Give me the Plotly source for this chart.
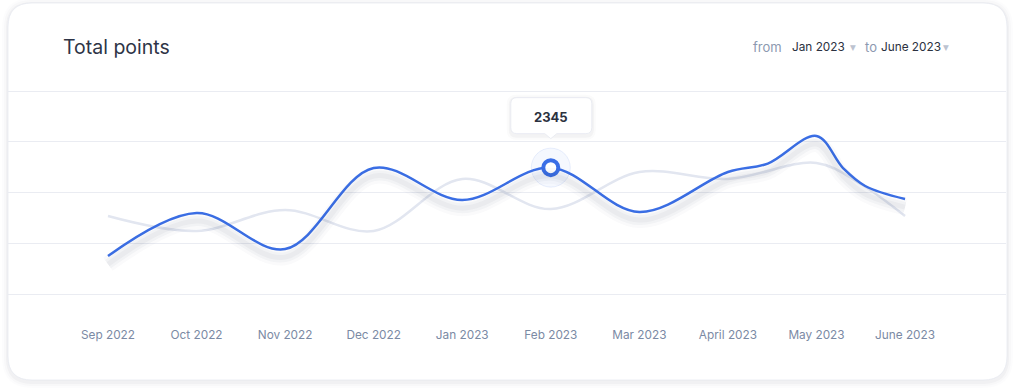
import plotly.graph_objects as go

# ---- data ----
months = ["Sep 2022", "Oct 2022", "Nov 2022", "Dec 2022", "Jan 2023",
          "Feb 2023", "Mar 2023", "April 2023", "May 2023", "June 2023"]
month_pos = list(range(len(months)))

# current period (blue) — extra in-between readings where the curve bends sharply
cur_x = [0, 1, 2, 3, 4, 5, 6, 7, 7.45, 8, 8.3, 8.55, 9]
cur_y = [1474, 1898, 1543, 2341, 2026, 2345, 1908, 2302, 2385, 2657, 2341, 2164, 2036]

# previous period (grey)
prev_x = [0, 1, 2, 3, 4, 5, 6, 7, 8, 8.5, 9]
prev_y = [1868, 1721, 1928, 1721, 2233, 1937, 2302, 2233, 2391, 2184, 1868]

highlight_idx = 5  # Feb 2023
highlight_val = cur_y[cur_x.index(highlight_idx)]

grid_vals = [1100, 1600, 2100, 2600, 3100]
y_range = [1001.5, 3198.5]
x_range = [-1.129, 10.14]

BLUE = "#3b6fe6"
GREY_LINE = "#e2e6f0"
FONT = "Inter"


def rrect(x0, y0, x1, y1, r):
    """rounded rectangle path in pixel offsets (y positive = up); y0 bottom, y1 top"""
    return (f"M {x0+r},{y1} L {x1-r},{y1} Q {x1},{y1} {x1},{y1-r} "
            f"L {x1},{y0+r} Q {x1},{y0} {x1-r},{y0} L {x0+r},{y0} "
            f"Q {x0},{y0} {x0},{y0+r} L {x0},{y1-r} Q {x0},{y1} {x0+r},{y1} Z")


def tooltip_path(x0, y0, x1, y1, r, tip_h, tip_w):
    return (f"M {x0+r},{y1} L {x1-r},{y1} Q {x1},{y1} {x1},{y1-r} "
            f"L {x1},{y0+r} Q {x1},{y0} {x1-r},{y0} "
            f"L {tip_w},{y0} L 0,{y0-tip_h} L {-tip_w},{y0} "
            f"L {x0+r},{y0} "
            f"Q {x0},{y0} {x0},{y0+r} L {x0},{y1-r} Q {x0},{y1} {x0+r},{y1} Z")


fig = go.Figure()

# soft shadow under the blue line (drawn on a shifted overlay axis)
shift = 80
for w, a in [(16, 0.025), (10, 0.035), (5, 0.04)]:
    fig.add_trace(go.Scatter(x=cur_x, y=cur_y, mode="lines", yaxis="y2",
                             line=dict(color=f"rgba(40,50,80,{a})", width=w,
                                       shape="spline", smoothing=1),
                             hoverinfo="skip", showlegend=False))

fig.add_trace(go.Scatter(x=prev_x, y=prev_y, mode="lines",
                         line=dict(color=GREY_LINE, width=2.5, shape="spline", smoothing=1),
                         hoverinfo="skip", showlegend=False))
fig.add_trace(go.Scatter(x=cur_x, y=cur_y, mode="lines",
                         line=dict(color=BLUE, width=2.5, shape="spline", smoothing=1),
                         hoverinfo="skip", showlegend=False))

# highlighted point: halo + ring
fig.add_trace(go.Scatter(x=[highlight_idx], y=[highlight_val], mode="markers",
                         marker=dict(size=39, color="rgba(59,111,230,0.05)",
                                     line=dict(color="rgba(59,111,230,0.10)", width=1)),
                         hoverinfo="skip", showlegend=False))
fig.add_trace(go.Scatter(x=[highlight_idx], y=[highlight_val], mode="markers",
                         marker=dict(size=15, color="white",
                                     line=dict(color=BLUE, width=4)),
                         hoverinfo="skip", showlegend=False))

shapes = []
# card shadow + card
for d, a in [(6, 0.012), (4, 0.02), (2, 0.03)]:
    shapes.append(dict(type="path", xref="paper", yref="paper", xsizemode="pixel",
                       ysizemode="pixel", xanchor=0, yanchor=1, layer="below",
                       path=rrect(-d, -299 - d - 2, 999 + d, 78 + d - 1, 24 + d),
                       fillcolor=f"rgba(30,40,70,{a})", line=dict(width=0)))
shapes.append(dict(type="path", xref="paper", yref="paper", xsizemode="pixel",
                   ysizemode="pixel", xanchor=0, yanchor=1, layer="below",
                   path=rrect(0, -299, 999, 78, 24),
                   fillcolor="white", line=dict(color="rgba(225,228,236,0.6)", width=1)))

# tooltip shadow + tooltip
for d, a in [(4, 0.02), (2, 0.035)]:
    shapes.append(dict(type="path", xref="x", yref="y", xsizemode="pixel",
                       ysizemode="pixel", xanchor=highlight_idx, yanchor=highlight_val,
                       path=rrect(-40 - d, 34 - d - 2, 41 + d, 70 + d - 1, 6 + d),
                       fillcolor=f"rgba(30,40,70,{a})", line=dict(width=0)))
shapes.append(dict(type="path", xref="x", yref="y", xsizemode="pixel",
                   ysizemode="pixel", xanchor=highlight_idx, yanchor=highlight_val,
                   path=tooltip_path(-40, 34, 41, 70, 6, 5, 6),
                   fillcolor="white", line=dict(color="rgba(230,233,240,0.8)", width=1)))

annotations = [
    dict(x=highlight_idx, y=highlight_val, xref="x", yref="y", yshift=51,
         text=f"<b>{highlight_val}</b>", showarrow=False,
         font=dict(family=FONT, size=13, color="#2b3140")),
]

hdr_y = (304 - 47) / 223
def px(xp):
    return (xp - 8) / 998

annotations += [
    dict(x=px(751), y=hdr_y, xref="paper", yref="paper", xanchor="left", yanchor="middle",
         text="from", showarrow=False, font=dict(family=FONT, size=13, color="#8c99b0")),
    dict(x=px(790), y=hdr_y, xref="paper", yref="paper", xanchor="left", yanchor="middle",
         text="Jan 2023", showarrow=False, font=dict(family=FONT, size=11.8, color="#2b3140")),
    dict(x=px(853), y=hdr_y, xref="paper", yref="paper", xanchor="center", yanchor="middle",
         text="▼", showarrow=False, font=dict(family="DejaVu Sans", size=7.5, color="#bcc3d0")),
    dict(x=px(863), y=hdr_y, xref="paper", yref="paper", xanchor="left", yanchor="middle",
         text="to", showarrow=False, font=dict(family=FONT, size=13, color="#8c99b0")),
    dict(x=px(879), y=hdr_y, xref="paper", yref="paper", xanchor="left", yanchor="middle",
         text="June 2023", showarrow=False, font=dict(family=FONT, size=11.8, color="#2b3140")),
    dict(x=px(946), y=hdr_y, xref="paper", yref="paper", xanchor="center", yanchor="middle",
         text="▼", showarrow=False, font=dict(family="DejaVu Sans", size=7.5, color="#bcc3d0")),
]

fig.update_layout(
    width=1015, height=390,
    margin=dict(l=8, r=9, t=81, b=86),
    paper_bgcolor="white", plot_bgcolor="rgba(0,0,0,0)",
    showlegend=False,
    title=dict(text="Total points", x=63 / 1015, xanchor="left", xref="container",
               y=1 - 47 / 390, yanchor="middle", yref="container",
               font=dict(family=FONT, size=19.5, color="#2e3446")),
    xaxis=dict(range=x_range, tickvals=month_pos, ticktext=months,
               showgrid=False, zeroline=False, showline=False, ticks="",
               ticklabelstandoff=22,
               tickfont=dict(family=FONT, size=11.8, color="#7b8aa4")),
    yaxis=dict(range=y_range, tickvals=grid_vals, showticklabels=False,
               showgrid=True, gridcolor="#eaecf2", gridwidth=1,
               zeroline=False, showline=False, ticks=""),
    yaxis2=dict(range=[y_range[0] + shift, y_range[1] + shift], overlaying="y",
                visible=False),
    shapes=shapes,
    annotations=annotations,
)

fig.write_html("out.html", config={"displayModeBar": False},
               post_script="document.body.style.margin='0';document.body.style.overflow='hidden';")
